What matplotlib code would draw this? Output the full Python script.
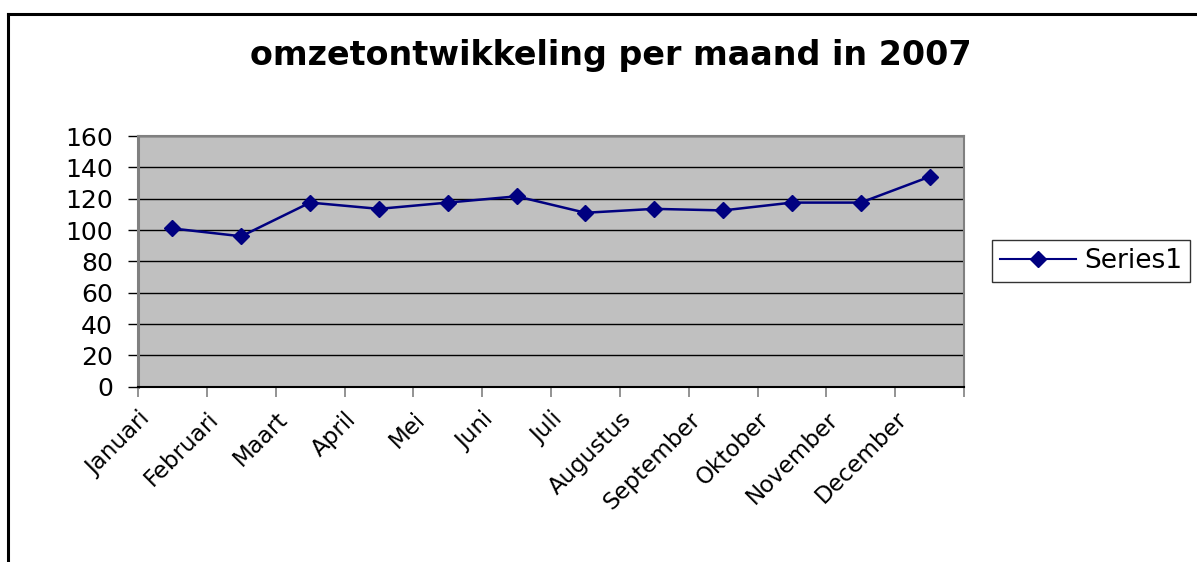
import matplotlib
matplotlib.use("Agg")
import matplotlib.pyplot as plt
from matplotlib.lines import Line2D
from matplotlib.transforms import ScaledTranslation
import numpy as np

months = ["Januari", "Februari", "Maart", "April", "Mei", "Juni", "Juli",
          "Augustus", "September", "Oktober", "November", "December"]
omzet = [101, 96, 117.5, 113.5, 117.5, 121.5, 111, 113.5, 112.5, 117.5, 117.5, 134]
y_ticks = [0, 20, 40, 60, 80, 100, 120, 140, 160]
title_text = "omzetontwikkeling per maand in 2007"
series_name = "Series1"

# wide sans face to mimic the stretched Arial of the original export
plt.rcParams["font.family"] = ["DejaVu Sans"]

navy = "#000080"

fig = plt.figure(figsize=(11.97, 5.62), dpi=100)
fig.patch.set_facecolor("white")

# outer chart frame (left and top edges visible)
fig.add_artist(Line2D([8 / 1197, 8 / 1197], [0, 1 - 14 / 562], transform=fig.transFigure,
                      color="black", lw=2.2))
fig.add_artist(Line2D([8 / 1197, 1], [1 - 14 / 562, 1 - 14 / 562], transform=fig.transFigure,
                      color="black", lw=2.2))

ax = fig.add_axes([138 / 1197, 1 - 386.7 / 562, (964 - 138) / 1197, (386.7 - 136) / 562])
ax.set_facecolor("#C0C0C0")

x = np.arange(len(months)) + 0.5
ax.plot(x, omzet, color=navy, lw=1.8, marker="D", markersize=8.5,
        markerfacecolor=navy, markeredgecolor=navy, zorder=3)

ax.set_xlim(0, len(months))
ax.set_ylim(y_ticks[0], y_ticks[-1])
ax.set_yticks(y_ticks)
ax.set_yticklabels([str(v) for v in y_ticks], fontsize=18)
ax.yaxis.grid(True, color="black", lw=1.0)
ax.set_axisbelow(True)

ax.set_xticks(np.arange(len(months) + 1))
ax.set_xticklabels(months + [""], fontsize=16.5, rotation=45, ha="right", va="top",
                   rotation_mode="anchor")
offset = ScaledTranslation(3 / 72, 0, fig.dpi_scale_trans)
for lab in ax.get_xticklabels():
    lab.set_transform(lab.get_transform() + offset)

ax.tick_params(axis="x", length=7, width=1.2, color="#808080", pad=8)
ax.tick_params(axis="y", length=7, width=1.0, color="black", pad=11)

for side in ("top", "right"):
    ax.spines[side].set_color("#808080")
    ax.spines[side].set_linewidth(1.5)
ax.spines["left"].set_color("#808080")
ax.spines["left"].set_linewidth(2.2)
ax.spines["bottom"].set_color("black")
ax.spines["bottom"].set_linewidth(1.5)

fig.text(611 / 1197, 1 - 55 / 562, title_text, ha="center", va="center",
         fontsize=24, fontweight="bold")

handle = Line2D([0], [0], color=navy, lw=1.5, marker="D", markersize=8,
                markerfacecolor=navy, markeredgecolor=navy)
leg = fig.legend([handle], [series_name], loc="center left",
                 bbox_to_anchor=(992 / 1197, 1 - 261 / 562), fontsize=19,
                 frameon=True, fancybox=False, shadow=False, handlelength=2.9,
                 borderpad=0.3, handletextpad=0.3, borderaxespad=0)
leg.get_frame().set_edgecolor("black")
leg.get_frame().set_linewidth(1.0)

fig.savefig("out.png", dpi=100)
